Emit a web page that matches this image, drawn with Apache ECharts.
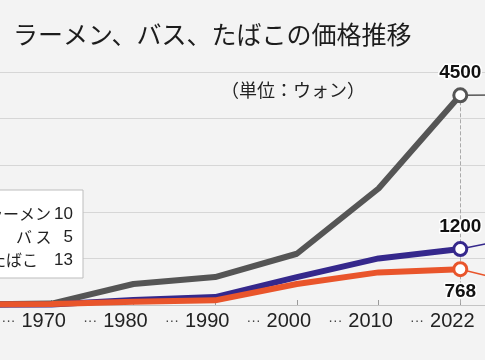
<!DOCTYPE html>
<html><head><meta charset="utf-8">
<script src="https://cdn.jsdelivr.net/npm/echarts@6/dist/echarts.min.js"></script>
<style>
html,body{margin:0;padding:0;background:#f3f3f3;overflow:hidden;width:485px;height:360px;position:relative}
#c{position:absolute;left:-33px;top:0;width:578px;height:360px}
</style>
</head><body><div id="c"></div>
<script>
// Data (first point lies left of the visible area)
const categories = ['', '1970', '1980', '1990', '2000', '2010', '2022', ''];
const tobacco = [13, 30, 450, 600, 1100, 2500, 4500, null];
const bus     = [5, 10, 110, 170, 600, 1000, 1200, null];
const ramen   = [10, 20, 70, 100, 450, 700, 768, null];
const yTicks  = [0, 1000, 2000, 3000, 4000, 5000];
const legendNames  = ['ラーメン', 'バ ス', 'たばこ'];
const legendValues = [10, 5, 13];

const lastIdx = 6;
const OX = 33; // chart canvas is shifted 33px to the left of the page
const NUM = "'Liberation Sans', Arial, sans-serif";
const CJK = "'Noto Sans CJK JP', 'Noto Sans', sans-serif";

function build(values, color, labelPos) {
  return values.map((v, i) => {
    if (i !== lastIdx) return v;
    return {
      value: v,
      symbol: 'circle',
      symbolSize: 13,
      itemStyle: { color: '#ffffff', borderColor: color, borderWidth: 3 },
      label: {
        show: true, position: labelPos, distance: 5,
        formatter: '{c}',
        fontFamily: NUM, fontWeight: 'bold', fontSize: 19,
        color: '#111', textBorderColor: '#ffffff', textBorderWidth: 3
      }
    };
  });
}

function series(name, values, color, labelPos, leaderEnd, extraMark) {
  const ml = [[{ coord: [lastIdx, values[lastIdx]], lineStyle: { color: color, width: 1.5, type: 'solid' } }, leaderEnd]];
  if (extraMark) ml.unshift(extraMark);
  return {
    name: name, type: 'line', data: build(values, color, labelPos),
    symbol: 'none', symbolSize: 0, showAllSymbol: true,
    lineStyle: { color: color, width: 6, join: 'round', cap: 'round' },
    itemStyle: { color: color },
    connectNulls: false,
    emphasis: { disabled: true },
    markLine: { silent: true, symbol: 'none', label: { show: false }, animation: false, data: ml, z: 1 },
    z: 2
  };
}

const chart = echarts.init(document.getElementById('c'), null, { renderer: 'canvas' });
chart.setOption({
  backgroundColor: '#f3f3f3',
  animation: false,
  grid: { left: 0, right: 0.5, top: 72, bottom: 55, containLabel: false },
  xAxis: {
    type: 'category', data: categories, boundaryGap: false,
    axisLine: { lineStyle: { color: '#c4c4c4', width: 1 } },
    axisTick: { inside: true, length: 5, lineStyle: { color: '#9a9a9a' } },
    axisLabel: {
      interval: 0, margin: 6,
      formatter: v => v ? '{d|···}{y|' + v + '}{sp| }' : '',
      rich: {
        d: { fontSize: 14, color: '#444', fontFamily: NUM, padding: [0, 6, 0, 0] },
        y: { fontSize: 20, color: '#222', fontFamily: NUM },
        sp: { width: 36, fontSize: 10 }
      }
    },
    splitLine: { show: false }
  },
  yAxis: {
    type: 'value', min: yTicks[0], max: yTicks[yTicks.length - 1], interval: yTicks[1] - yTicks[0],
    axisLabel: { show: false }, axisLine: { show: false }, axisTick: { show: false },
    splitLine: { lineStyle: { color: '#d6d6d6', width: 1 } }
  },
  series: [
    series('たばこ', tobacco, '#555555', 'top', { x: 500 + OX, y: 95 },
      [{ coord: [lastIdx, tobacco[lastIdx]], lineStyle: { color: '#aaaaaa', width: 1, type: 'dashed' } }, { coord: [lastIdx, 0] }]),
    series('バス', bus, '#35288c', 'top', { x: 500 + OX, y: 241 }),
    series('ラーメン', ramen, '#e9552b', 'bottom', { x: 500 + OX, y: 279 })
  ],
  graphic: [
    { type: 'text', left: 13 + OX, top: 22, style: { text: 'ラーメン、バス、たばこの価格推移', font: '25px ' + CJK, fill: '#1c1c1c' } },
    { type: 'text', left: 221 + OX, top: 81, style: { text: '（単位：ウォン）', font: '18px ' + CJK, fill: '#222' } },
    { type: 'rect', shape: { x: -5 + OX, y: 190, width: 88, height: 88 }, style: { fill: '#ffffff', stroke: '#bdbdbd', lineWidth: 1 }, z: 10 },
    { type: 'text', x: 51 + OX, y: 214, style: { text: legendNames[0], font: '16px ' + CJK, fill: '#222', align: 'right', verticalAlign: 'middle' }, z: 11 },
    { type: 'text', x: 16 + OX, y: 237, style: { text: legendNames[1], font: '16px ' + CJK, fill: '#222', align: 'left', verticalAlign: 'middle' }, z: 11 },
    { type: 'text', x: -10 + OX, y: 260, style: { text: legendNames[2], font: '16px ' + CJK, fill: '#222', align: 'left', verticalAlign: 'middle' }, z: 11 },
    { type: 'text', x: 73 + OX, y: 214, style: { text: String(legendValues[0]), font: '17px ' + NUM, fill: '#222', align: 'right', verticalAlign: 'middle' }, z: 11 },
    { type: 'text', x: 73 + OX, y: 237, style: { text: String(legendValues[1]), font: '17px ' + NUM, fill: '#222', align: 'right', verticalAlign: 'middle' }, z: 11 },
    { type: 'text', x: 73 + OX, y: 260, style: { text: String(legendValues[2]), font: '17px ' + NUM, fill: '#222', align: 'right', verticalAlign: 'middle' }, z: 11 }
  ]
});
</script></body></html>
